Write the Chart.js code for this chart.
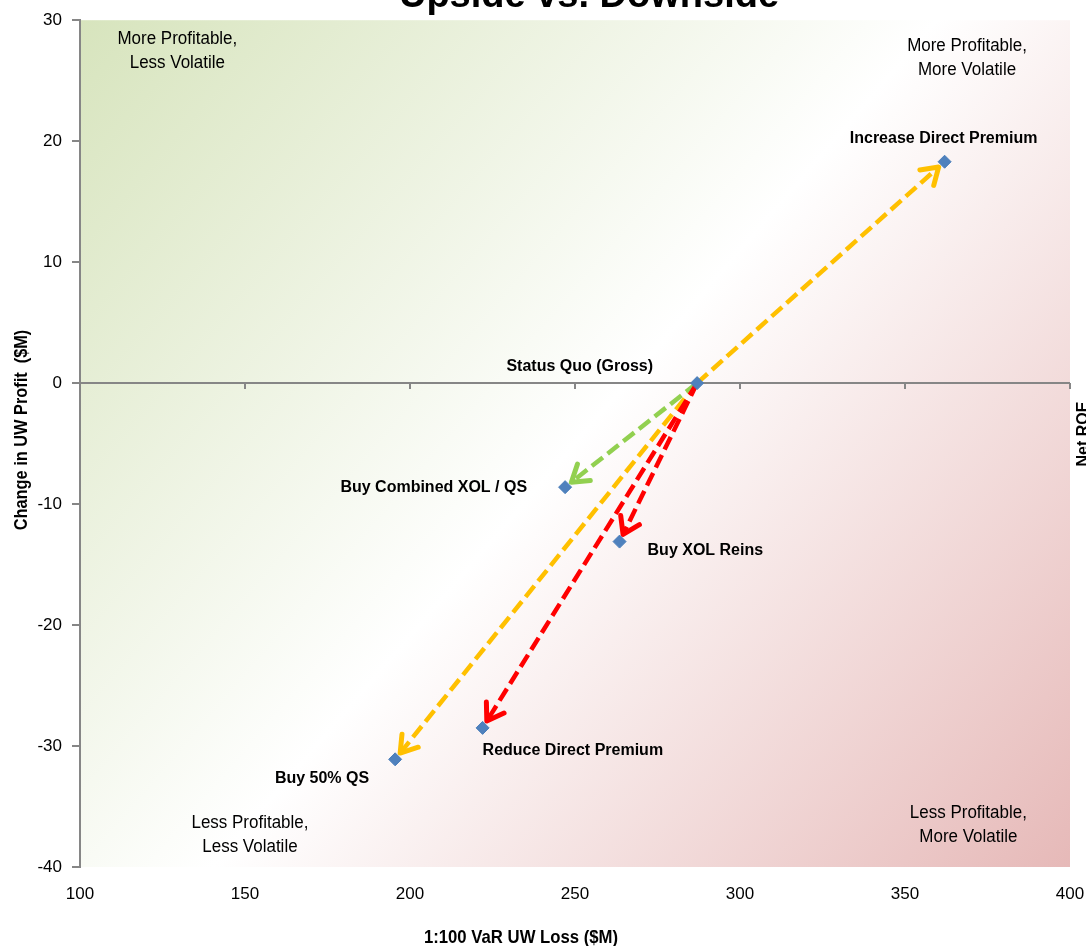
<!DOCTYPE html>
<html>
<head>
<meta charset="utf-8">
<title>Upside vs. Downside</title>
<script src="https://cdn.jsdelivr.net/npm/chart.js@4.4.1/dist/chart.umd.min.js"></script>
<style>
  html, body { margin: 0; padding: 0; background: #ffffff; }
  canvas { display: block; }
</style>
</head>
<body>
<canvas id="chart" width="1086" height="946"></canvas>
<script>
// Reinsurance / premium strategies: 1:100 VaR UW loss vs change in UW profit ($M)
const strategies   = ['Status Quo (Gross)', 'Increase Direct Premium', 'Buy Combined XOL / QS',
                      'Buy XOL Reins', 'Reduce Direct Premium', 'Buy 50% QS'];
const varLoss      = [287, 362, 247, 263.5, 222, 195.5];
const profitChange = [0, 18.3, -8.6, -13.1, -28.5, -31.1];

// colour of the move from the status quo to each strategy (index 0 is the origin)
const moveColors = [null, '#FFC000', '#92D050', '#FF0000', '#FF0000', '#FFC000'];
const moveOrder  = [1, 5, 2, 3, 4];

// axis ranges and tick steps
const xRange = { min: 100, max: 400, step: 50 };
const yRange = { min: -40, max: 30, step: 10 };

// corner notes, anchored in data units
const noteText = [['More Profitable,', 'Less Volatile'], ['More Profitable,', 'More Volatile'],
                  ['Less Profitable,', 'Less Volatile'], ['Less Profitable,', 'More Volatile']];
const noteX = [129.5, 368.8, 151.5, 369.2];
const noteY = [27.4, 26.9, -37.35, -36.55];

// label placement next to each point (pixels)
const labelPlace = [
  { dx: -44, dy: -17, align: 'right' },
  { dx: -1,  dy: -23, align: 'center' },
  { dx: -38, dy: 0,   align: 'right' },
  { dx: 28,  dy: 9,   align: 'left' },
  { dx: 0,   dy: 23,  align: 'left' },
  { dx: -26, dy: 19,  align: 'right' }
];

const SANS = "'Liberation Sans', Arial, sans-serif";
const AXIS_GREY = '#868686';

const points = varLoss.map((x, i) => ({ x: x, y: profitChange[i] }));

// text drawn slightly condensed (narrow face look)
function narrowText(ctx, str, x, y, squeeze) {
  ctx.save();
  ctx.translate(x, y);
  ctx.scale(squeeze, 1);
  ctx.fillText(str, 0, 0);
  ctx.restore();
}

// plot-area gradient: green top-left, white across the middle, rose bottom-right
const backdrop = {
  id: 'backdrop',
  beforeDraw(chart) {
    const { ctx, chartArea: a } = chart;
    ctx.save();
    ctx.fillStyle = '#ffffff';
    ctx.fillRect(0, 0, chart.width, chart.height);
    const g = ctx.createLinearGradient(a.left, a.top, a.right, a.bottom);
    g.addColorStop(0, '#D7E4BD');
    g.addColorStop(0.5, '#FFFFFF');
    g.addColorStop(1, '#E6B9B8');
    ctx.fillStyle = g;
    ctx.fillRect(a.left, a.top, a.right - a.left, a.bottom - a.top);
    ctx.restore();
  }
};

// horizontal axis line through zero with its tick marks, then the dashed moves
const movesAndZero = {
  id: 'movesAndZero',
  beforeDatasetsDraw(chart) {
    const { ctx, chartArea: a, scales: { x, y } } = chart;
    const y0 = y.getPixelForValue(0);
    ctx.save();
    ctx.strokeStyle = AXIS_GREY;
    ctx.lineWidth = 2;
    ctx.beginPath();
    ctx.moveTo(a.left, y0);
    ctx.lineTo(a.right, y0);
    x.ticks.forEach(t => {
      const px = Math.round(x.getPixelForValue(t.value));
      ctx.moveTo(px, y0);
      ctx.lineTo(px, y0 + 6);
    });
    ctx.stroke();

    const ox = x.getPixelForValue(varLoss[0]);
    const oy = y.getPixelForValue(profitChange[0]);
    moveOrder.forEach(i => {
      const tx = x.getPixelForValue(varLoss[i]);
      const ty = y.getPixelForValue(profitChange[i]);
      const ang = Math.atan2(ty - oy, tx - ox);
      const len = Math.hypot(tx - ox, ty - oy) - 8;
      const ex = ox + Math.cos(ang) * len;
      const ey = oy + Math.sin(ang) * len;
      ctx.strokeStyle = moveColors[i];
      ctx.lineWidth = 4.5;
      ctx.lineCap = 'butt';
      ctx.setLineDash([14, 6]);
      ctx.beginPath();
      ctx.moveTo(ox, oy);
      ctx.lineTo(ex - Math.cos(ang) * 2, ey - Math.sin(ang) * 2);
      ctx.stroke();
      // open arrow head
      ctx.setLineDash([]);
      ctx.lineWidth = 5;
      ctx.lineCap = 'round';
      ctx.lineJoin = 'round';
      const arm = 19, spread = 0.58;
      ctx.beginPath();
      ctx.moveTo(ex - Math.cos(ang - spread) * arm, ey - Math.sin(ang - spread) * arm);
      ctx.lineTo(ex, ey);
      ctx.lineTo(ex - Math.cos(ang + spread) * arm, ey - Math.sin(ang + spread) * arm);
      ctx.stroke();
    });
    ctx.restore();
  }
};

// point labels, corner notes, titles
const texts = {
  id: 'texts',
  afterDraw(chart) {
    const { ctx, scales: { x, y } } = chart;
    ctx.save();
    ctx.fillStyle = '#000000';

    ctx.font = 'bold 16px ' + SANS;
    ctx.textBaseline = 'middle';
    strategies.forEach((name, i) => {
      const p = labelPlace[i];
      ctx.textAlign = p.align;
      ctx.fillText(name, x.getPixelForValue(varLoss[i]) + p.dx, y.getPixelForValue(profitChange[i]) + p.dy);
    });

    ctx.font = '17.5px ' + SANS;
    ctx.textAlign = 'center';
    noteText.forEach((lines, i) => {
      const cx = x.getPixelForValue(noteX[i]);
      const cy = y.getPixelForValue(noteY[i]);
      narrowText(ctx, lines[0], cx, cy - 12, 0.97);
      narrowText(ctx, lines[1], cx, cy + 12, 0.97);
    });

    // chart title
    ctx.font = 'bold 38px ' + SANS;
    ctx.textBaseline = 'alphabetic';
    ctx.fillText('Upside vs. Downside', 589, 7);

    // axis titles
    ctx.font = 'bold 19px ' + SANS;
    ctx.textBaseline = 'middle';
    narrowText(ctx, '1:100 VaR UW Loss ($M)', 521, 938, 0.88);
    ctx.save();
    ctx.translate(22, 430);
    ctx.rotate(-Math.PI / 2);
    narrowText(ctx, 'Change in UW Profit  ($M)', 0, 0, 0.86);
    ctx.restore();

    // secondary title at the right edge
    ctx.save();
    ctx.font = 'bold 16px ' + SANS;
    ctx.textBaseline = 'alphabetic';
    ctx.translate(1088, 434);
    ctx.rotate(-Math.PI / 2);
    ctx.fillText('Net ROE', 0, 0);
    ctx.restore();

    ctx.restore();
  }
};

new Chart(document.getElementById('chart'), {
  type: 'scatter',
  data: {
    datasets: [{
      label: 'Strategies',
      data: points,
      pointStyle: 'rectRot',
      pointRadius: 6.5,
      pointHoverRadius: 6.5,
      backgroundColor: '#4F81BD',
      borderColor: '#4A7EBB',
      borderWidth: 1
    }]
  },
  options: {
    responsive: false,
    animation: false,
    devicePixelRatio: 1,
    layout: { padding: { top: 18, right: 16, left: 0, bottom: 0 } },
    plugins: { legend: { display: false }, tooltip: { enabled: false }, title: { display: false } },
    scales: {
      x: {
        type: 'linear',
        min: xRange.min, max: xRange.max,
        // invisible tick marks keep the labels clear of the plot edge
        grid: { display: true, drawOnChartArea: false, drawTicks: true, tickLength: 16,
                color: 'rgba(0,0,0,0)' },
        border: { display: false },
        ticks: { stepSize: xRange.step, color: '#000000', padding: 1, maxRotation: 0,
                 font: { family: SANS, size: 17 } },
        afterFit(scale) { scale.height = 79; }
      },
      y: {
        type: 'linear',
        min: yRange.min, max: yRange.max,
        grid: { display: true, drawOnChartArea: false, drawTicks: true, tickLength: 8,
                color: AXIS_GREY, lineWidth: 2 },
        border: { display: true, color: AXIS_GREY, width: 2 },
        ticks: { stepSize: yRange.step, color: '#000000', padding: 10,
                 font: { family: SANS, size: 17 } },
        afterFit(scale) { scale.width = 80; }
      }
    }
  },
  plugins: [backdrop, movesAndZero, texts]
});
</script>
</body>
</html>
